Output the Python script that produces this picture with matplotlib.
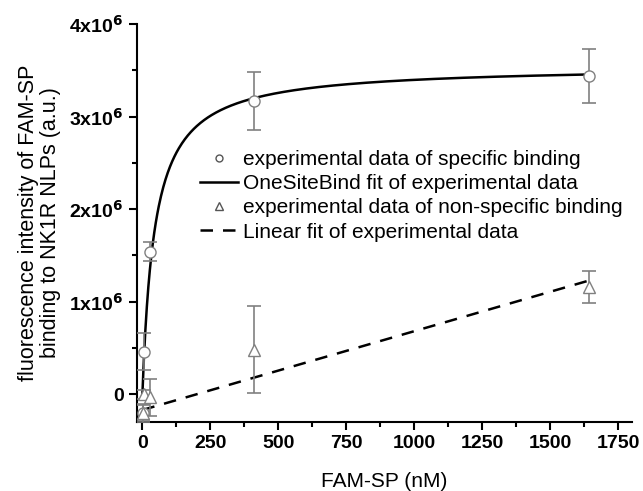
import numpy as np
import matplotlib
matplotlib.use("Agg")
import matplotlib.pyplot as plt
from matplotlib.ticker import MultipleLocator
from matplotlib.lines import Line2D

plt.rcParams['font.family'] = ['Liberation Sans', 'DejaVu Sans']
plt.rcParams['mathtext.default'] = 'bf'

# specific binding (circles)
spec_x = [1, 5, 27, 410, 1640]
spec_y = [-0.2e6, 0.46e6, 1.54e6, 3.17e6, 3.44e6]
spec_err = [0.08e6, 0.2e6, 0.1e6, 0.31e6, 0.29e6]

# non-specific binding (triangles)
ns_x = [1, 5, 27, 410, 1640]
ns_y = [-0.2e6, 0.0e6, -0.03e6, 0.48e6, 1.16e6]
ns_err = [0.1e6, 0.05e6, 0.2e6, 0.47e6, 0.17e6]

# fit parameters
bmax = 3.55e6
kd = 45.0
lin_a = -0.17e6
lin_b = 0.000852e6

xt = [0, 250, 500, 750, 1000, 1250, 1500, 1750]
yt = [0, 1e6, 2e6, 3e6, 4e6]
ytl = ['0', r'1x10$^{\mathbf{6}}$', r'2x10$^{\mathbf{6}}$', r'3x10$^{\mathbf{6}}$', r'4x10$^{\mathbf{6}}$']
labels = ['experimental data of specific binding', 'OneSiteBind fit of experimental data',
          'experimental data of non-specific binding', 'Linear fit of experimental data']

fig = plt.figure(figsize=(6.43, 4.91), dpi=100)
ax = fig.add_axes([0.213, 0.1405, 0.77, 0.8105])

grey = '#808080'
xf = np.linspace(0, 1640, 600)
ax.plot(xf, bmax * xf / (kd + xf), color='black', lw=1.8, zorder=3)
xl = np.array([0, 1640])
ax.plot(xl, lin_a + lin_b * xl, color='black', lw=1.8, ls=(0, (5, 4)), zorder=3)

ax.errorbar(spec_x, spec_y, yerr=spec_err, fmt='o', ms=8, mfc='white', mec=grey,
            ecolor=grey, elinewidth=1.2, capsize=5, capthick=1.2, zorder=4)
ax.errorbar(ns_x, ns_y, yerr=ns_err, fmt='^', ms=9, mfc='white', mec=grey,
            ecolor=grey, elinewidth=1.2, capsize=5, capthick=1.2, zorder=4)

ax.set_xlim(-20, 1800)
ax.set_ylim(-0.3e6, 4e6)

ax.spines['top'].set_visible(False)
ax.spines['right'].set_visible(False)
ax.spines['left'].set_linewidth(1.5)
ax.spines['bottom'].set_linewidth(1.5)

ax.set_xticks(xt)
ax.set_xticklabels([str(v) for v in xt])
ax.xaxis.set_minor_locator(MultipleLocator(125))
ax.set_yticks(yt)
ax.set_yticklabels(ytl)
ax.yaxis.set_minor_locator(MultipleLocator(0.5e6))
ax.tick_params(which='major', direction='out', length=6, width=1.5, labelsize=14)
ax.tick_params(which='minor', direction='out', length=3.5, width=1.5)
for lab in ax.get_xticklabels() + ax.get_yticklabels():
    lab.set_fontweight('bold')

ax.set_xlabel('FAM-SP (nM)', fontsize=15, labelpad=14)
ax.set_ylabel('fluorescence intensity of FAM-SP\nbinding to NK1R NLPs (a.u.)', fontsize=15.5,
              labelpad=6, linespacing=1.1)

handles = [Line2D([], [], ls='none', marker='o', ms=5, mfc='white', mec='#555555'),
           Line2D([], [], color='black', lw=1.8),
           Line2D([], [], ls='none', marker='^', ms=5.5, mfc='white', mec='#555555'),
           Line2D([], [], color='black', lw=1.8, ls=(0, (5, 4)))]
ax.legend(handles, labels, loc='upper left', bbox_to_anchor=(200 / 643, 1 - 150 / 491),
          bbox_transform=fig.transFigure, frameon=False,
          fontsize=15, handlelength=1.8, handletextpad=0.25, labelspacing=0.25,
          borderaxespad=0, borderpad=0)

fig.savefig('out.png', dpi=100)
